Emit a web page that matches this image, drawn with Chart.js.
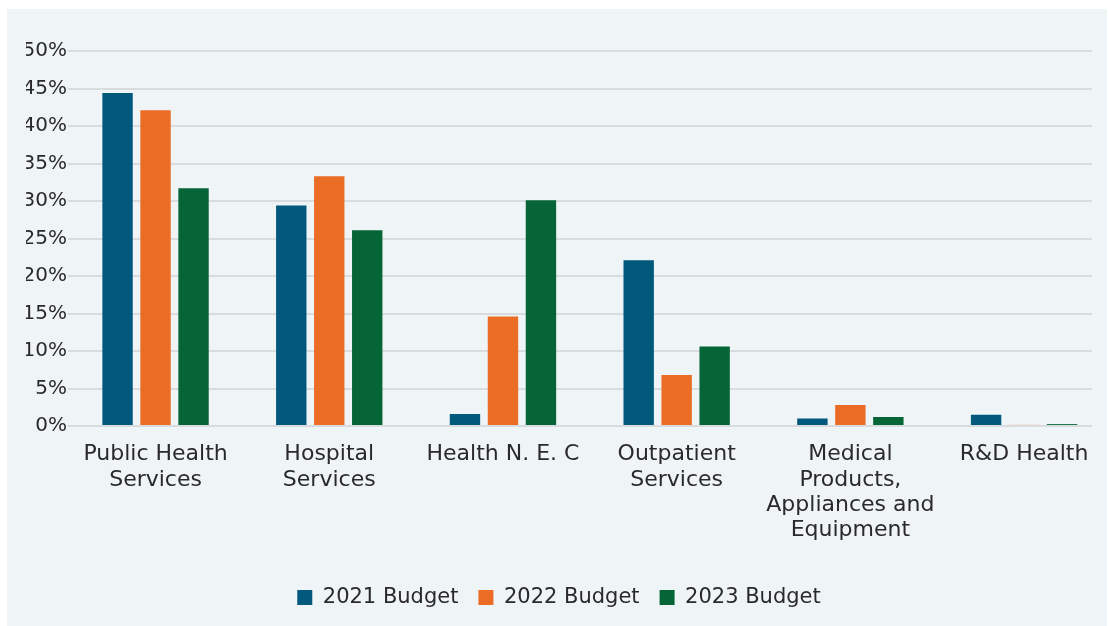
<!DOCTYPE html>
<html>
<head>
<meta charset="utf-8">
<script src="https://cdn.jsdelivr.net/npm/chart.js@4/dist/chart.umd.min.js"></script>
<style>
  html, body { margin: 0; padding: 0; background: #ffffff; }
  #panel { position: absolute; left: 7px; top: 9px; width: 1100px; height: 617px; background: #eff4f7; }
  canvas { display: block; }
</style>
</head>
<body>
<div id="panel"><canvas id="c" width="1100" height="617"></canvas></div>
<script>
const categories = [
  ["Public Health", "Services"],
  ["Hospital", "Services"],
  "Health N. E. C",
  ["Outpatient", "Services"],
  ["Medical", "Products,", "Appliances and", "Equipment"],
  "R&D Health"
];
const seriesNames = ["2021 Budget", "2022 Budget", "2023 Budget"];
const budget2021 = [44.4, 29.4, 1.6, 22.1, 1.0, 1.5];
const budget2022 = [42.1, 33.3, 14.6, 6.8, 2.8, 0.15];
const budget2023 = [31.7, 26.1, 30.1, 10.6, 1.2, 0.25];
const yTicks = [0, 5, 10, 15, 20, 25, 30, 35, 40, 45, 50];
const colors = ["#00587c", "#ea6c25", "#056537"];

const font = "'DejaVu Sans', sans-serif";

new Chart(document.getElementById("c"), {
  type: "bar",
  data: {
    datasets: [budget2021, budget2022, budget2023].map((d, i) => ({
      label: seriesNames[i],
      data: d.map((v, j) => ({ x: j, y: v })),
      backgroundColor: colors[i],
      categoryPercentage: 0.656,
      barPercentage: 0.8
    }))
  },
  options: {
    responsive: false,
    animation: false,
    layout: { padding: { top: 42, right: 15, left: 19, bottom: 8 } },
    plugins: {
      legend: {
        position: "bottom",
        labels: {
          boxWidth: 15, boxHeight: 15, color: "#2a2a2a",
          font: { family: font, size: 21 }, padding: 20
        }
      },
      tooltip: { enabled: false }
    },
    scales: {
      x: {
        type: "linear",
        offset: false,
        min: -0.504,
        max: 5.391,
        grid: { display: false },
        border: { display: false },
        afterBuildTicks: s => { s.ticks = categories.map((c, i) => ({ value: i })); },
        ticks: {
          color: "#2a2a2a", font: { family: font, size: 22, lineHeight: 1.15 },
          maxRotation: 0, autoSkip: false, padding: 8,
          callback: v => categories[v]
        },
        afterFit: s => { s.height = 141; }
      },
      y: {
        min: 0, max: 50,
        grid: { color: "#d9dcdf", lineWidth: 2, drawTicks: false },
        border: { display: false },
        afterBuildTicks: s => { s.ticks = yTicks.map(v => ({ value: v })); },
        ticks: { color: "#2a2a2a", font: { family: font, size: 20 }, padding: 1, callback: v => v + "%" },
        afterFit: s => { s.width = 42; }
      }
    }
  }
});
</script>
</body>
</html>
